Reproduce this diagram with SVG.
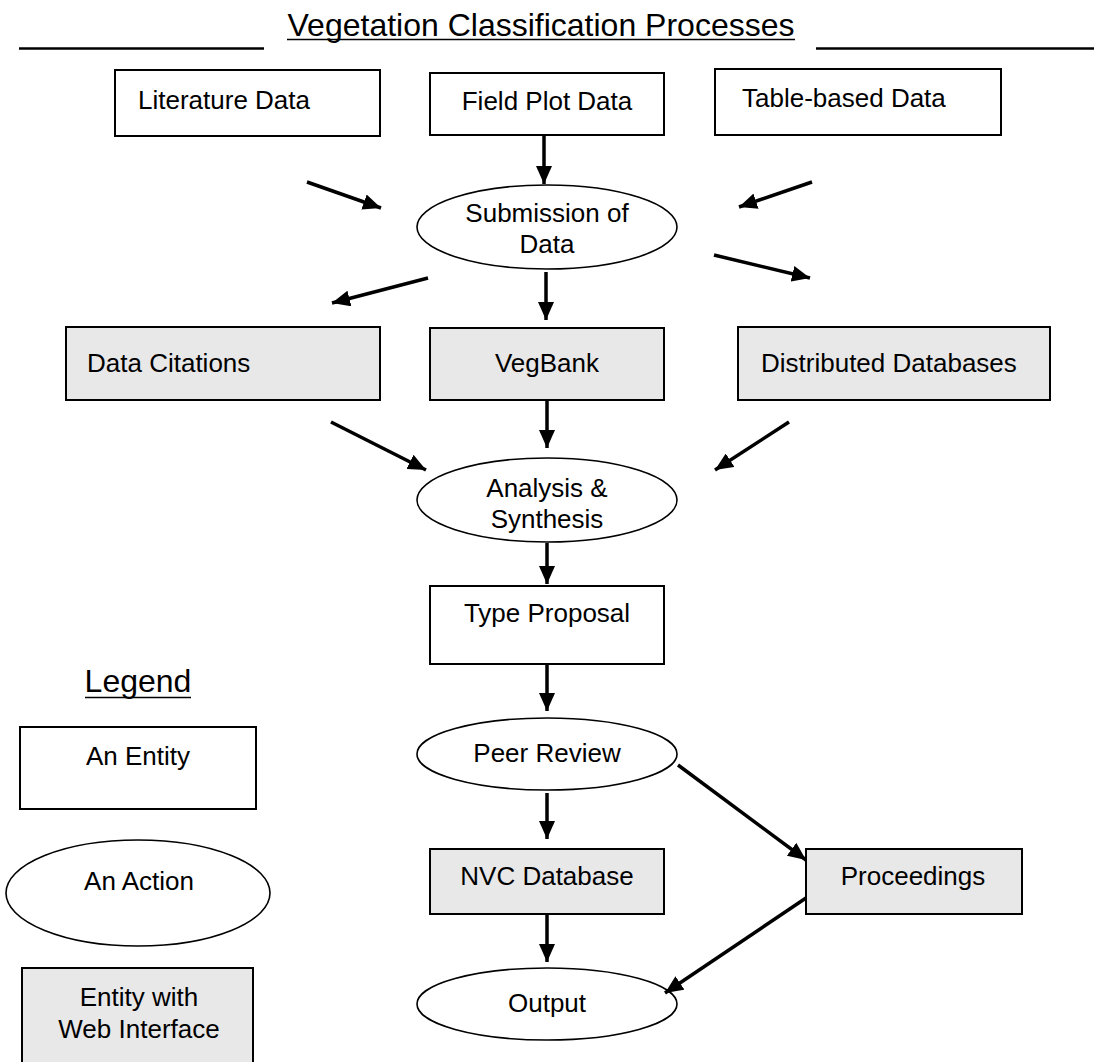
<svg xmlns="http://www.w3.org/2000/svg" width="1094" height="1062" viewBox="0 0 1094 1062">
<defs>
<style>
.box{fill:#fff;stroke:#000;stroke-width:2}
.web{fill:#e8e8e8;stroke:#000;stroke-width:2}
.act{fill:#fff;stroke:#000;stroke-width:1.6}
text{font-family:"Liberation Sans",Arial,sans-serif;font-size:26px;fill:#000}
.c{text-anchor:middle}
.ttl{font-size:32px}
.lg{font-size:32px}
.rule{stroke:#000;stroke-width:2.5}
.con line{stroke:#000;stroke-width:3.5}
</style>
<marker id="ah" markerUnits="userSpaceOnUse" viewBox="0 0 18 16" refX="18" refY="8" markerWidth="18" markerHeight="16" orient="auto">
<path d="M0,0 L18,8 L0,16 Z" fill="#000"/>
</marker>
</defs>
<rect width="1094" height="1062" fill="#fff"/>
<g id="title">
<text class="ttl c" x="541" y="36">Vegetation Classification Processes</text>
<line x1="287" y1="39.5" x2="795" y2="39.5" stroke="#000" stroke-width="1.5"/>
<line class="rule" x1="19" y1="48.5" x2="264" y2="48.5"/>
<line class="rule" x1="816" y1="48.5" x2="1094" y2="48.5"/>
</g>
<g id="literature"><rect class="box" x="115" y="70" width="265" height="66"/><text x="138" y="109">Literature Data</text></g>
<g id="fieldplot"><rect class="box" x="430" y="73" width="234" height="62"/><text class="c" x="547" y="110">Field Plot Data</text></g>
<g id="tablebased"><rect class="box" x="715" y="69" width="286" height="66"/><text x="742" y="107">Table-based Data</text></g>
<g id="submission"><ellipse class="act" cx="547" cy="227" rx="130" ry="42"/><text class="c" x="547" y="222">Submission of</text><text class="c" x="547" y="253">Data</text></g>
<g id="citations"><rect class="web" x="66" y="327" width="314" height="73"/><text x="87" y="372">Data Citations</text></g>
<g id="vegbank"><rect class="web" x="430" y="328" width="234" height="72"/><text class="c" x="547" y="372">VegBank</text></g>
<g id="distributed"><rect class="web" x="738" y="327" width="312" height="73"/><text x="761" y="372">Distributed Databases</text></g>
<g id="analysis"><ellipse class="act" cx="547" cy="500" rx="130" ry="42"/><text class="c" x="547" y="497">Analysis &amp;</text><text class="c" x="547" y="528">Synthesis</text></g>
<g id="typeproposal"><rect class="box" x="430" y="586" width="234" height="78"/><text class="c" x="547" y="622">Type Proposal</text></g>
<g id="peerreview"><ellipse class="act" cx="547" cy="754" rx="130" ry="36"/><text class="c" x="547" y="762">Peer Review</text></g>
<g id="nvc"><rect class="web" x="430" y="849" width="234" height="65"/><text class="c" x="547" y="885">NVC Database</text></g>
<g id="proceedings"><rect class="web" x="806" y="849" width="216" height="65"/><text class="c" x="913" y="885">Proceedings</text></g>
<g id="output"><ellipse class="act" cx="547" cy="1004" rx="130" ry="36"/><text class="c" x="547" y="1012">Output</text></g>
<g id="legend">
<text class="lg c" x="138" y="692">Legend</text>
<line x1="85" y1="697.5" x2="191" y2="697.5" stroke="#000" stroke-width="1.5"/>
</g>
<g id="legend-entity"><rect class="box" x="20" y="727" width="236" height="82"/><text class="c" x="138" y="765">An Entity</text></g>
<g id="legend-action"><ellipse class="act" cx="138" cy="893" rx="132" ry="53"/><text class="c" x="139" y="890">An Action</text></g>
<g id="legend-web"><rect class="web" x="22" y="968" width="231" height="100"/><text class="c" x="139" y="1006">Entity with</text><text class="c" x="139" y="1038">Web Interface</text></g>
<g id="connectors" class="con">
<line x1="544" y1="135" x2="544" y2="184" marker-end="url(#ah)"/>
<line x1="307" y1="182" x2="381" y2="208" marker-end="url(#ah)"/>
<line x1="812" y1="182" x2="739" y2="207" marker-end="url(#ah)"/>
<line x1="428" y1="278" x2="332" y2="303" marker-end="url(#ah)"/>
<line x1="546" y1="272" x2="546" y2="320" marker-end="url(#ah)"/>
<line x1="714" y1="255" x2="810" y2="278" marker-end="url(#ah)"/>
<line x1="331" y1="422" x2="426" y2="470" marker-end="url(#ah)"/>
<line x1="547" y1="400" x2="547" y2="448" marker-end="url(#ah)"/>
<line x1="789" y1="422" x2="715" y2="470" marker-end="url(#ah)"/>
<line x1="547" y1="543" x2="547" y2="584" marker-end="url(#ah)"/>
<line x1="547" y1="664" x2="547" y2="711" marker-end="url(#ah)"/>
<line x1="547" y1="793" x2="547" y2="839" marker-end="url(#ah)"/>
<line x1="547" y1="914" x2="547" y2="962" marker-end="url(#ah)"/>
<line x1="678" y1="765" x2="806" y2="860" marker-end="url(#ah)"/>
<line x1="806" y1="898" x2="665" y2="993" marker-end="url(#ah)"/>
</g>
</svg>
